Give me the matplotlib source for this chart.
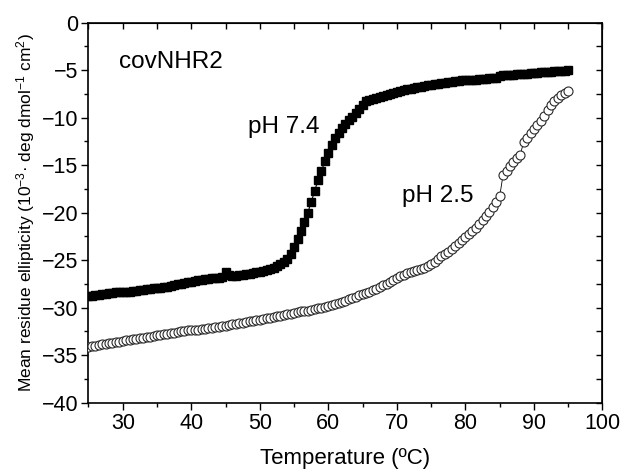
import matplotlib.pyplot as plt
from matplotlib.ticker import MultipleLocator

plt.rcParams["font.family"] = ["Liberation Sans", "DejaVu Sans"]
plt.rcParams["mathtext.fontset"] = "custom"
plt.rcParams["mathtext.rm"] = "Liberation Sans"
plt.rcParams["mathtext.it"] = "Liberation Sans:italic"

# temperature grid (ºC), shared by both scans
temperature = [
    25.0, 25.5, 26.0, 26.5, 27.0, 27.5, 28.0, 28.5, 29.0, 29.5,
    30.0, 30.5, 31.0, 31.5, 32.0, 32.5, 33.0, 33.5, 34.0, 34.5,
    35.0, 35.5, 36.0, 36.5, 37.0, 37.5, 38.0, 38.5, 39.0, 39.5,
    40.0, 40.5, 41.0, 41.5, 42.0, 42.5, 43.0, 43.5, 44.0, 44.5,
    45.0, 45.5, 46.0, 46.5, 47.0, 47.5, 48.0, 48.5, 49.0, 49.5,
    50.0, 50.5, 51.0, 51.5, 52.0, 52.5, 53.0, 53.5, 54.0, 54.5,
    55.0, 55.5, 56.0, 56.5, 57.0, 57.5, 58.0, 58.5, 59.0, 59.5,
    60.0, 60.5, 61.0, 61.5, 62.0, 62.5, 63.0, 63.5, 64.0, 64.5,
    65.0, 65.5, 66.0, 66.5, 67.0, 67.5, 68.0, 68.5, 69.0, 69.5,
    70.0, 70.5, 71.0, 71.5, 72.0, 72.5, 73.0, 73.5, 74.0, 74.5,
    75.0, 75.5, 76.0, 76.5, 77.0, 77.5, 78.0, 78.5, 79.0, 79.5,
    80.0, 80.5, 81.0, 81.5, 82.0, 82.5, 83.0, 83.5, 84.0, 84.5,
    85.0, 85.5, 86.0, 86.5, 87.0, 87.5, 88.0, 88.5, 89.0, 89.5,
    90.0, 90.5, 91.0, 91.5, 92.0, 92.5, 93.0, 93.5, 94.0, 94.5,
    95.0,
]

# mean residue ellipticity, pH 7.4 (filled squares)
ph74 = [
    -28.8, -28.8, -28.7, -28.7, -28.6, -28.6, -28.5, -28.5, -28.4, -28.4,
    -28.3, -28.3, -28.3, -28.2, -28.2, -28.1, -28.1, -28.0, -28.0, -27.9,
    -27.9, -27.9, -27.8, -27.8, -27.7, -27.6, -27.5, -27.5, -27.4, -27.3,
    -27.3, -27.2, -27.1, -27.1, -27.0, -27.0, -26.9, -26.9, -26.9, -26.8,
    -26.3, -26.6, -26.7, -26.7, -26.6, -26.6, -26.5, -26.5, -26.4, -26.3,
    -26.2, -26.1, -26.0, -25.9, -25.8, -25.6, -25.4, -25.2, -24.9, -24.4,
    -23.6, -22.8, -21.9, -21.0, -20.0, -18.9, -17.7, -16.6, -15.6, -14.6,
    -13.7, -12.9, -12.2, -11.6, -11.1, -10.7, -10.3, -9.9, -9.5, -9.1,
    -8.7, -8.3, -8.1, -8.0, -7.9, -7.8, -7.7, -7.6, -7.5, -7.4,
    -7.3, -7.2, -7.1, -7.0, -7.0, -6.9, -6.8, -6.8, -6.7, -6.6,
    -6.6, -6.5, -6.5, -6.4, -6.4, -6.3, -6.3, -6.2, -6.2, -6.1,
    -6.1, -6.0, -6.0, -6.0, -5.9, -5.9, -5.9, -5.8, -5.8, -5.8,
    -5.6, -5.5, -5.5, -5.5, -5.5, -5.4, -5.4, -5.4, -5.4, -5.3,
    -5.3, -5.3, -5.2, -5.2, -5.2, -5.2, -5.1, -5.1, -5.1, -5.1,
    -5.0,
]

# mean residue ellipticity, pH 2.5 (open circles)
ph25 = [
    -34.1, -34.0, -34.0, -33.9, -33.8, -33.8, -33.7, -33.7, -33.6, -33.6,
    -33.5, -33.4, -33.4, -33.3, -33.3, -33.2, -33.2, -33.1, -33.1, -33.0,
    -32.9, -32.9, -32.8, -32.8, -32.7, -32.7, -32.6, -32.5, -32.5, -32.4,
    -32.4, -32.3, -32.3, -32.2, -32.2, -32.1, -32.1, -32.0, -32.0, -31.9,
    -31.9, -31.8, -31.7, -31.7, -31.6, -31.6, -31.5, -31.4, -31.4, -31.3,
    -31.3, -31.2, -31.1, -31.1, -31.0, -30.9, -30.9, -30.8, -30.7, -30.7,
    -30.6, -30.5, -30.4, -30.4, -30.3, -30.2, -30.1, -30.0, -30.0, -29.9,
    -29.8, -29.7, -29.6, -29.5, -29.4, -29.3, -29.1, -29.0, -28.9, -28.7,
    -28.6, -28.5, -28.3, -28.1, -28.0, -27.8, -27.6, -27.5, -27.3, -27.1,
    -26.9, -26.7, -26.6, -26.4, -26.2, -26.1, -26.0, -25.9, -25.8, -25.6,
    -25.4, -25.2, -24.9, -24.6, -24.4, -24.1, -23.8, -23.5, -23.2, -22.9,
    -22.6, -22.3, -21.9, -21.6, -21.2, -20.8, -20.4, -19.9, -19.4, -18.9,
    -18.3, -16.0, -15.6, -15.1, -14.7, -14.3, -13.9, -12.6, -12.1, -11.6,
    -11.2, -10.8, -10.4, -9.8, -9.2, -8.7, -8.3, -7.9, -7.6, -7.4,
    -7.2,
]

fig = plt.figure(figsize=(6.24, 4.73), dpi=100)
ax = fig.add_axes([0.1418, 0.1486, 0.8237, 0.8038])

# pH 7.4: filled black squares
ax.plot(temperature, ph74, color="black", lw=0.8, marker="s", markersize=6.2,
        markerfacecolor="black", markeredgecolor="black", zorder=3)
# pH 2.5: open circles with a thin joining line
ax.plot(temperature, ph25, color="black", lw=0.6, marker="o", markersize=6.5,
        markerfacecolor="white", markeredgecolor="#2a2a2a", markeredgewidth=0.8,
        zorder=3)

ax.text(29.5, -4.2, "covNHR2", fontsize=17.5, va="center", ha="left")
ax.text(48.3, -11.0, "pH 7.4", fontsize=17.5, va="center", ha="left")
ax.text(70.8, -18.2, "pH 2.5", fontsize=17.5, va="center", ha="left")

ax.set_xlim(25, 100)
ax.set_ylim(-40, 0)
ax.yaxis.set_major_locator(MultipleLocator(5))
ax.yaxis.set_minor_locator(MultipleLocator(2.5))
ax.set_xticks(range(30, 101, 10))
ax.xaxis.set_minor_locator(MultipleLocator(5))
ax.tick_params(which="both", direction="out", width=1, labelsize=15.5, pad=2.5)
ax.tick_params(which="major", length=5)
ax.tick_params(which="minor", length=3)

# mirrored ticks on top and right, pointing inwards
top = ax.secondary_xaxis("top")
top.xaxis.set_major_locator(MultipleLocator(5))
top.tick_params(direction="in", length=4, width=1, labeltop=False)
right = ax.secondary_yaxis("right")
right.yaxis.set_major_locator(MultipleLocator(2.5))
right.tick_params(direction="in", length=4, width=1, labelright=False)

for s in ax.spines.values():
    s.set_linewidth(1.2)

ax.set_xlabel("Temperature (ºC)", fontsize=16, labelpad=10)
ax.set_ylabel("Mean residue ellipticity (10$^{-3}$\u00b7 deg dmol$^{-1}$ cm$^{2}$)",
              fontsize=12.5, labelpad=3)

fig.savefig("out.png", dpi=100)
